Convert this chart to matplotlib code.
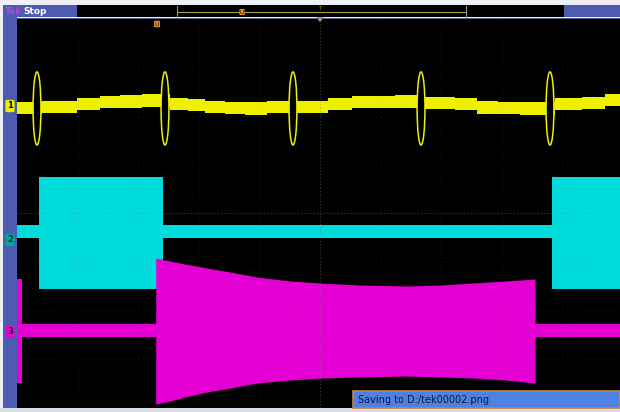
import matplotlib.pyplot as plt
from matplotlib.patches import Ellipse, Rectangle, Polygon
import numpy as np

# scope screen: 10 x 8 divisions, all values below in divisions
# CH1 (yellow): stepped level, one step per x start
ch1_x = [-5.0, -4.587, -4.01, -3.63, -3.30, -2.937, -2.475, -2.178, -1.898, -1.568,
         -1.238, -0.875, -0.363, 0.132, 0.528, 0.875, 1.238, 1.733, 2.228, 2.591,
         2.937, 3.30, 3.878, 4.323, 4.703, 4.95]
ch1_y = [2.154, 2.174, 2.236, 2.277, 2.287, 2.308, 2.236, 2.215, 2.174, 2.154,
         2.144, 2.174, 2.174, 2.236, 2.277, 2.277, 2.287, 2.256, 2.236, 2.164,
         2.154, 2.144, 2.236, 2.256, 2.318, 2.318]
ch1_spikes = [-4.67, -2.558, -0.446, 1.667, 3.795]
ch1_spike_level = 2.144
ch1_spike_height = 1.5

# CH2 (cyan)
ch2_level = -0.379
ch2_bursts = [(-4.637, -2.591), (3.828, 4.95)]
ch2_burst_top = 0.738
ch2_burst_bottom = -1.559

# CH3 (magenta)
ch3_level = -2.40
ch3_edge = (-5.0, -4.91, -3.487, -1.354)   # x0, x1, bottom, top
ch3_env_x = [-2.711, -2.475, -2.228, -1.865, -1.485, -1.040, -0.495, 0.0, 0.660,
             1.436, 1.980, 2.525, 3.053, 3.548]
ch3_env_top = [-0.923, -0.985, -1.046, -1.128, -1.210, -1.313, -1.395, -1.436, -1.477,
               -1.497, -1.477, -1.436, -1.395, -1.354]
ch3_env_bot = [-3.918, -3.856, -3.774, -3.672, -3.590, -3.487, -3.426, -3.385, -3.364,
               -3.344, -3.364, -3.385, -3.426, -3.487]

YEL = '#efef00'
CYA = '#00dcdc'
MAG = '#e400d2'
ORG = '#e09020'

W, H = 620, 412
fig = plt.figure(figsize=(6.2, 4.12), dpi=100, facecolor='#eef0f6')


def fx(px):
    return px / W


def fy(py):
    return 1 - py / H


ax = fig.add_axes([fx(17), fy(408), fx(620) - fx(17), fy(18) - fy(408)])
ax.set_facecolor('black')
ax.set_xlim(-5, 4.95)
ax.set_ylim(-4, 4)
ax.set_xticks([])
ax.set_yticks([])
for s in ax.spines.values():
    s.set_visible(False)

# CH1
c1 = np.array(ch1_y)
ax.fill_between(ch1_x, c1 - 0.125, c1 + 0.125, step='post', color=YEL, lw=0, zorder=3)
for sx in ch1_spikes:
    ax.add_patch(Ellipse((sx, ch1_spike_level), 0.13, ch1_spike_height,
                         fc='black', ec=YEL, lw=1.1, zorder=4))

# CH2
ax.axhline(ch2_level, color=CYA, lw=9.4, zorder=3)
for x0, x1 in ch2_bursts:
    ax.fill_between([x0, x1], ch2_burst_bottom, ch2_burst_top, color=CYA, lw=0, zorder=3)

# CH3
ax.axhline(ch3_level, color=MAG, lw=9.4, zorder=5)
ax.fill_between(ch3_edge[:2], ch3_edge[2], ch3_edge[3], color=MAG, lw=0, zorder=5)
ax.fill_between(ch3_env_x, ch3_env_bot, ch3_env_top, color=MAG, lw=0, zorder=5)

# graticule
for gx in range(-4, 5):
    ax.axvline(gx, color='#707070', lw=0.6, ls=(0, (1, 4)), alpha=0.3, zorder=6)
for gy in range(-3, 4):
    ax.axhline(gy, color='#707070', lw=0.6, ls=(0, (1, 4)), alpha=0.3, zorder=6)
ax.axvline(0, color='#808080', lw=0.8, ls=(0, (1, 2)), alpha=0.4, zorder=6)
ax.axhline(0, color='#808080', lw=0.8, ls=(0, (1, 2)), alpha=0.4, zorder=6)

# left channel strip
fig.patches.append(Rectangle((fx(3), fy(410)), fx(17) - fx(3), fy(17) - fy(410),
                             transform=fig.transFigure, fc='#4d5cb0', ec='none', zorder=1))
for lab, py, fc, tc in [('1', 106, YEL, 'black'), ('2', 240, '#00a8a0', '#002828'),
                        ('3', 332, MAG, '#300030')]:
    fig.text(fx(10), fy(py), lab, fontsize=6, fontweight='bold', color=tc,
             ha='center', va='center',
             bbox=dict(boxstyle='round,pad=0.2', fc=fc, ec='none'))

# top status bar
fig.patches.append(Rectangle((fx(3), fy(17)), fx(77) - fx(3), fy(5) - fy(17),
                             transform=fig.transFigure, fc='#4d5cb0', ec='none'))
fig.patches.append(Rectangle((fx(77), fy(17)), fx(564) - fx(77), fy(5) - fy(17),
                             transform=fig.transFigure, fc='black', ec='none'))
fig.patches.append(Rectangle((fx(564), fy(17)), fx(620) - fx(564), fy(5) - fy(17),
                             transform=fig.transFigure, fc='#4d5cb0', ec='none'))
fig.text(fx(5), fy(11), 'Tek', fontsize=6.5, fontweight='bold', color='#b848d8',
         va='center')
fig.text(fx(23), fy(11), 'Stop', fontsize=6.5, fontweight='bold', color='white',
         va='center')
fig.lines.append(plt.Line2D([fx(177), fx(466)], [fy(12), fy(12)],
                            transform=fig.transFigure, color='#a8a040', lw=0.8))
for bx in (177, 466):
    fig.lines.append(plt.Line2D([fx(bx), fx(bx)], [fy(6), fy(17)],
                                transform=fig.transFigure, color='#909090', lw=0.8))
fig.lines.append(plt.Line2D([fx(17), fx(620)], [fy(17.5), fy(17.5)],
                            transform=fig.transFigure, color='#6070a0', lw=0.6))
fig.text(fx(242), fy(12), 'U', fontsize=4, color='black', ha='center', va='center',
         bbox=dict(boxstyle='round,pad=0.1', fc=ORG, ec='none'))
fig.text(fx(157), fy(24), 'U', fontsize=4.5, color='black', ha='center', va='center',
         bbox=dict(boxstyle='round,pad=0.12', fc=ORG, ec='none'))
fig.patches.append(Polygon([[fx(316), fy(17)], [fx(324), fy(17)], [fx(320), fy(22)]],
                           closed=True, transform=fig.transFigure, fc=ORG, ec='none'))
fig.text(fx(320), fy(8), 'T', fontsize=3.5, color=ORG, ha='center', va='center')

# bottom strip
fig.patches.append(Rectangle((0, 0), 1, fy(408), transform=fig.transFigure,
                             fc='#d8dce4', ec='none'))

# save message box
fig.patches.append(Rectangle((fx(353), fy(408)), fx(620) - fx(353), fy(391) - fy(408),
                             transform=fig.transFigure, fc='#4f82e0', ec='#c8843c', lw=1.2,
                             zorder=10))
fig.text(fx(358), fy(400), 'Saving to D:/tek00002.png', fontsize=7, color='#101840',
         va='center', zorder=11)

fig.savefig('out.png', dpi=100, facecolor=fig.get_facecolor())
